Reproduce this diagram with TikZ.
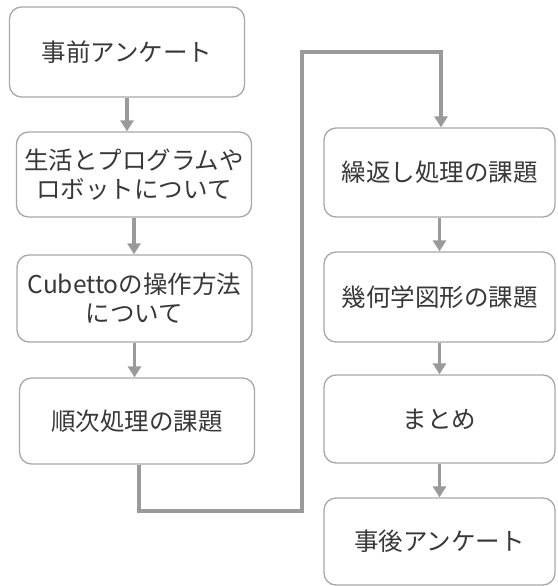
\documentclass[tikz,border=0pt]{standalone}
\usepackage{fontspec}
\setmainfont{Noto Sans CJK JP}
\usetikzlibrary{arrows.meta}
\definecolor{boxline}{HTML}{A8A8A8}
\definecolor{conn}{HTML}{9A9A9A}
\definecolor{txt}{HTML}{383838}
\begin{document}
\begin{tikzpicture}[x=1pt,y=-1pt,
  stepbox/.style={draw=boxline, line width=1.3pt, rounded corners=12pt, fill=white,
    minimum width=235pt, minimum height=87pt, inner sep=0pt, align=center,
    text=txt, font=\fontsize{24.5}{29}\selectfont},
  flow/.style={draw=conn, line width=3.5pt, -{Triangle[width=13pt,length=11pt]}}]
\useasboundingbox (0,0) rectangle (557,586);
\node[stepbox, minimum height=90pt] (b1) at (127,52) {事前アンケート};
\node[stepbox, minimum height=85pt] (b2) at (134,174.5) {生活とプログラムや\\ロボットについて};
\node[stepbox] (b3) at (134.5,298.5) {Cubettoの操作方法\\について};
\node[stepbox, minimum height=86pt] (b4) at (137,421) {順次処理の課題};
\node[stepbox, minimum width=231pt, minimum height=89pt] (b5) at (439.5,172.5) {繰返し処理の課題};
\node[stepbox, minimum width=231pt, minimum height=90pt] (b6) at (439.5,297) {幾何学図形の課題};
\node[stepbox, minimum width=231pt, minimum height=88pt] (b7) at (439.5,419) {まとめ};
\node[stepbox, minimum width=231pt, minimum height=87pt] (b8) at (439.5,541.5) {事後アンケート};
\draw[flow] (b1.south) -- (b1.south |- b2.north);
\draw[flow] (b2.south) -- (b2.south |- b3.north);
\draw[flow] (b3.south) -- (b3.south |- b4.north);
\coordinate (c1) at (139,511);
\coordinate (c2) at (302,511);
\coordinate (c3) at (302,52);
\coordinate (c4) at (441,52);
\draw[flow] (b4.south -| c1) -- (c1) -- (c2) -- (c3) -- (c4) -- (c4 |- b5.north);
\draw[flow] (b5.south) -- (b6.north);
\draw[flow] (b6.south) -- (b7.north);
\draw[flow] (b7.south) -- (b8.north);
\end{tikzpicture}
\end{document}
